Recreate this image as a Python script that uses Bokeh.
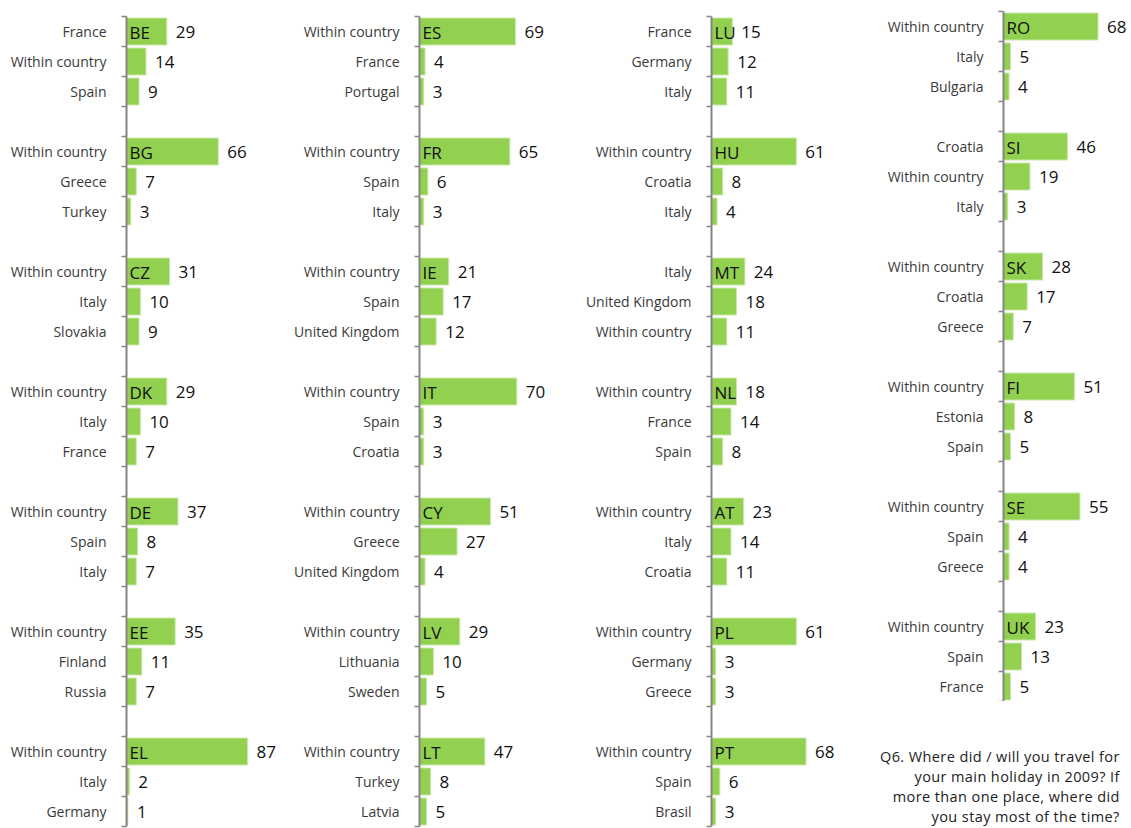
from bokeh.plotting import figure
from bokeh.models import Range1d, FixedTicker, ColumnDataSource, Div
from bokeh.layouts import row, column
from bokeh.embed import file_html
from bokeh.resources import INLINE
from bokeh.core.properties import value

# ---------------- data ----------------
countries = ["BE", "BG", "CZ", "DK", "DE", "EE", "EL",
             "ES", "FR", "IE", "IT", "CY", "LV", "LT",
             "LU", "HU", "MT", "NL", "AT", "PL", "PT",
             "RO", "SI", "SK", "FI", "SE", "UK"]

destinations = [
    ["France", "Within country", "Spain"],
    ["Within country", "Greece", "Turkey"],
    ["Within country", "Italy", "Slovakia"],
    ["Within country", "Italy", "France"],
    ["Within country", "Spain", "Italy"],
    ["Within country", "Finland", "Russia"],
    ["Within country", "Italy", "Germany"],
    ["Within country", "France", "Portugal"],
    ["Within country", "Spain", "Italy"],
    ["Within country", "Spain", "United Kingdom"],
    ["Within country", "Spain", "Croatia"],
    ["Within country", "Greece", "United Kingdom"],
    ["Within country", "Lithuania", "Sweden"],
    ["Within country", "Turkey", "Latvia"],
    ["France", "Germany", "Italy"],
    ["Within country", "Croatia", "Italy"],
    ["Italy", "United Kingdom", "Within country"],
    ["Within country", "France", "Spain"],
    ["Within country", "Italy", "Croatia"],
    ["Within country", "Germany", "Greece"],
    ["Within country", "Spain", "Brasil"],
    ["Within country", "Italy", "Bulgaria"],
    ["Croatia", "Within country", "Italy"],
    ["Within country", "Croatia", "Greece"],
    ["Within country", "Estonia", "Spain"],
    ["Within country", "Spain", "Greece"],
    ["Within country", "Spain", "France"],
]

shares = [
    [29, 14, 9], [66, 7, 3], [31, 10, 9], [29, 10, 7], [37, 8, 7], [35, 11, 7], [87, 2, 1],
    [69, 4, 3], [65, 6, 3], [21, 17, 12], [70, 3, 3], [51, 27, 4], [29, 10, 5], [47, 8, 5],
    [15, 12, 11], [61, 8, 4], [24, 18, 11], [18, 14, 8], [23, 14, 11], [61, 3, 3], [68, 6, 3],
    [68, 5, 4], [46, 19, 3], [28, 17, 7], [51, 8, 5], [55, 4, 4], [23, 13, 5],
]

panels_per_column = [7, 7, 7, 6]

note_lines = ["Q6. Where did / will you travel for",
              "your main holiday in 2009? If",
              "more than one place, where did",
              "you stay most of the time?"]

# ---------------- style / layout ----------------
PX_PER_UNIT = 1.39
SLOT_PX = 30
fig_widths = [285, 293, 292, 261]
left_borders = [126, 134, 133, 133]
TOP_BORDERS = [16, 16, 16, 11]
FULL_H = 828
BAR_COLOR = "#92D050"
AXIS_COLOR = "#868686"
FONT = "Open Sans"

cols = []
start = 0
for c, k in enumerate(panels_per_column):
    idx = list(range(start, start + k))
    start += k
    n_slots = 4 * k - 1
    frame_h = SLOT_PX * n_slots
    height = TOP_BORDERS[c] + frame_h + (2 if c < 3 else 0)
    frame_w = fig_widths[c] - left_borders[c]
    x_end = frame_w / PX_PER_UNIT

    ys, xs, labels, vtxt = [], [], [], []
    code_y, code_t = [], []
    for j, pi in enumerate(idx):
        for r in range(3):
            s = 4 * j + r
            ys.append(s)
            xs.append(shares[pi][r])
            labels.append(destinations[pi][r])
            vtxt.append(str(shares[pi][r]))
        code_y.append(4 * j)
        code_t.append(countries[pi])

    p = figure(width=fig_widths[c], height=height, output_backend="svg",
               toolbar_location=None, x_range=Range1d(0, x_end),
               y_range=Range1d(n_slots - 0.5, -0.5),
               min_border_left=left_borders[c], min_border_right=0,
               min_border_top=TOP_BORDERS[c], min_border_bottom=height - TOP_BORDERS[c] - frame_h)
    p.outline_line_color = None
    p.xgrid.visible = False
    p.ygrid.visible = False
    p.xaxis.visible = False

    src = ColumnDataSource(dict(y=ys, x=xs, t=vtxt))
    p.hbar(y="y", left=0, right="x", height=0.9, source=src,
           fill_color=BAR_COLOR, line_color="#c8e8a8", line_width=1)
    p.text(x="x", y="y", text="t", source=src, x_offset=9, text_baseline="middle",
           text_align="left", text_font=value(FONT), text_font_size="17px",
           text_color="#111111")
    csrc = ColumnDataSource(dict(y=code_y, x=[0] * len(code_y), t=code_t))
    p.text(x="x", y="y", text="t", source=csrc, x_offset=3, y_offset=1,
           text_baseline="middle", text_align="left", text_font=value(FONT),
           text_font_size="17px", text_color="#111111")

    ax = p.yaxis[0]
    ax.ticker = FixedTicker(ticks=ys, minor_ticks=[i - 0.5 for i in range(n_slots + 1)])
    ax.major_label_overrides = {y: l for y, l in zip(ys, labels)}
    ax.major_tick_line_color = None
    ax.major_tick_out = 0
    ax.major_tick_in = 0
    ax.minor_tick_line_color = AXIS_COLOR
    ax.minor_tick_line_width = 1.5
    ax.minor_tick_out = 5
    ax.minor_tick_in = 0
    ax.axis_line_color = AXIS_COLOR
    ax.axis_line_width = 2
    ax.major_label_standoff = 15
    ax.major_label_text_font = FONT
    ax.major_label_text_font_size = "14px"
    ax.major_label_text_color = "#3a3a3a"

    if c == 3:
        div_h = FULL_H - height
        html = ('<div style="height:%dpx; overflow:hidden; box-sizing:border-box; '
                'position:relative; left:10px; '
                'padding-top:46px; text-align:right; white-space:nowrap; letter-spacing:0.4px; '
                'font-family:\'Open Sans\'; font-size:14.5px; line-height:20px; color:#222;">%s</div>'
                % (div_h, "<br>".join(note_lines)))
        note = Div(text=html, width=fig_widths[c], height=div_h, margin=(0, 0, 0, 0))
        cols.append(column(p, note, spacing=0))
    else:
        cols.append(p)

layout = row(*cols, spacing=0)
open("out.html", "w").write(file_html(layout, INLINE))
